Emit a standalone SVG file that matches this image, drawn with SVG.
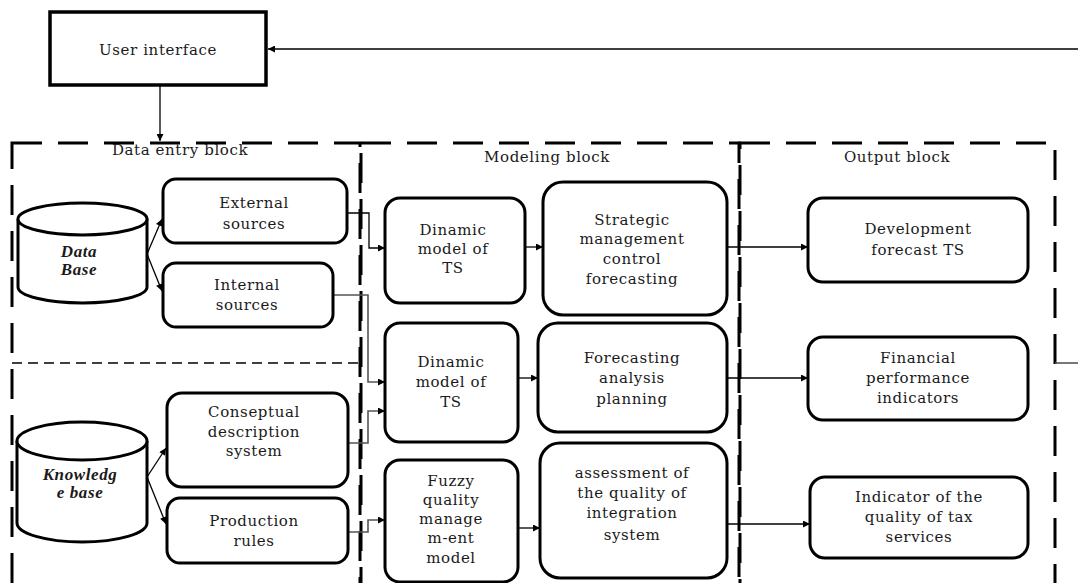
<svg xmlns="http://www.w3.org/2000/svg" width="1078" height="583" viewBox="0 0 1078 583">
<defs>
<marker id="ah" viewBox="0 0 10 10" refX="10" refY="5" markerWidth="10" markerHeight="7" markerUnits="userSpaceOnUse" orient="auto"><path d="M0,0 L10,5 L0,10 z" fill="#000"/></marker>
<style>
.t{font-family:"DejaVu Serif","Liberation Serif",serif;font-size:15px;fill:#1a1a1a;text-anchor:middle;letter-spacing:0.6px}
.ti{font-family:"Liberation Serif",serif;font-size:17px;font-weight:bold;font-style:italic;fill:#1a1a1a;text-anchor:middle;letter-spacing:0.6px}
.box{fill:#fff;stroke:#000;stroke-width:3}
.blk{fill:none;stroke:#000;stroke-width:3;stroke-dasharray:30 16}
.c{fill:none;stroke:#000;stroke-width:1.3}
.cg{fill:none;stroke:#555;stroke-width:1.6}
</style>
</defs>
<rect width="1078" height="583" fill="#fff"/>
<g id="blocks">
<rect class="blk" x="12" y="143" width="348" height="470"/>
<rect class="blk" x="361" y="143" width="378" height="470"/>
<rect class="blk" x="740" y="143" width="315" height="470"/>
<line x1="12" y1="363" x2="360" y2="363" stroke="#000" stroke-width="1.5" stroke-dasharray="10 6"/>
<text class="t" x="180" y="155">Data entry block</text>
<text class="t" x="547" y="162">Modeling block</text>
<text class="t" x="897" y="162">Output block</text>
</g>
<g id="connectors">
<line class="c" x1="1078" y1="49" x2="268" y2="49" marker-end="url(#ah)"/>
<line class="c" x1="160" y1="86" x2="160" y2="141" stroke-width="2" marker-end="url(#ah)"/>
<line class="cg" x1="1055" y1="363" x2="1078" y2="363"/>
<line class="c" x1="147" y1="254" x2="162" y2="219" marker-end="url(#ah)"/>
<line class="c" x1="147" y1="254" x2="162" y2="291" marker-end="url(#ah)"/>
<line class="c" x1="147" y1="477" x2="166" y2="448" marker-end="url(#ah)"/>
<line class="c" x1="147" y1="477" x2="166" y2="524" marker-end="url(#ah)"/>
<path class="c" d="M347,213 H369 V248 H385" marker-end="url(#ah)"/>
<path class="cg" d="M333,295 H368 V382 H385" marker-end="url(#ah)"/>
<path class="cg" d="M348,443 H368 V411 H385" marker-end="url(#ah)"/>
<path class="cg" d="M348,532 H368 V520 H385" marker-end="url(#ah)"/>
<line class="c" x1="525" y1="247" x2="543" y2="247" marker-end="url(#ah)"/>
<line class="c" x1="513" y1="378" x2="538" y2="378" marker-end="url(#ah)"/>
<line class="c" x1="518" y1="528" x2="540" y2="528" marker-end="url(#ah)"/>
<line class="c" x1="727" y1="247" x2="808" y2="247" marker-end="url(#ah)"/>
<line class="c" x1="727" y1="378" x2="808" y2="378" marker-end="url(#ah)"/>
<line class="c" x1="727" y1="524" x2="810" y2="524" marker-end="url(#ah)"/>
</g>
<g id="user-interface">
<rect x="50" y="12" width="216" height="73" fill="#fff" stroke="#000" stroke-width="3.5"/>
<text class="t" x="158" y="55">User interface</text>
</g>
<g id="data-base">
<path d="M18,219 V287 A64.5,16 0 0 0 147,287 V219" fill="#fff" stroke="#000" stroke-width="3"/>
<ellipse cx="82.5" cy="219" rx="64.5" ry="16" fill="#fff" stroke="#000" stroke-width="3"/>
<text class="ti" x="79" y="257">Data</text>
<text class="ti" x="79" y="275">Base</text>
</g>
<g id="knowledge-base">
<path d="M17,441 V523 A65,19 0 0 0 147,523 V441" fill="#fff" stroke="#000" stroke-width="3"/>
<ellipse cx="82" cy="441" rx="65" ry="19" fill="#fff" stroke="#000" stroke-width="3"/>
<text class="ti" x="80" y="480">Knowledg</text>
<text class="ti" x="80" y="498">e base</text>
</g>
<g id="external-sources">
<rect class="box" x="163" y="179" width="184" height="64" rx="13"/>
<text class="t" x="254" y="208">External</text>
<text class="t" x="254" y="229">sources</text>
</g>
<g id="internal-sources">
<rect class="box" x="163" y="263" width="170" height="64" rx="13"/>
<text class="t" x="247" y="290">Internal</text>
<text class="t" x="247" y="310">sources</text>
</g>
<g id="conseptual">
<rect class="box" x="167" y="393" width="181" height="94" rx="15"/>
<text class="t" x="254" y="417">Conseptual</text>
<text class="t" x="254" y="437">description</text>
<text class="t" x="254" y="456">system</text>
</g>
<g id="production-rules">
<rect class="box" x="167" y="498" width="181" height="65" rx="13"/>
<text class="t" x="254" y="526">Production</text>
<text class="t" x="254" y="546">rules</text>
</g>
<g id="dinamic-1">
<rect class="box" x="385" y="198" width="140" height="105" rx="15"/>
<text class="t" x="453" y="235">Dinamic</text>
<text class="t" x="453" y="254">model of</text>
<text class="t" x="453" y="273">TS</text>
</g>
<g id="strategic">
<rect class="box" x="543" y="182" width="184" height="133" rx="20"/>
<text class="t" x="632" y="225">Strategic</text>
<text class="t" x="632" y="244">management</text>
<text class="t" x="632" y="264">control</text>
<text class="t" x="632" y="284">forecasting</text>
</g>
<g id="dinamic-2">
<rect class="box" x="385" y="323" width="133" height="119" rx="15"/>
<text class="t" x="451" y="367">Dinamic</text>
<text class="t" x="451" y="387">model of</text>
<text class="t" x="451" y="407">TS</text>
</g>
<g id="forecasting">
<rect class="box" x="538" y="323" width="189" height="109" rx="20"/>
<text class="t" x="632" y="363">Forecasting</text>
<text class="t" x="632" y="383">analysis</text>
<text class="t" x="632" y="404">planning</text>
</g>
<g id="fuzzy">
<rect class="box" x="385" y="460" width="133" height="122" rx="15"/>
<text class="t" x="451" y="486">Fuzzy</text>
<text class="t" x="451" y="505">quality</text>
<text class="t" x="451" y="524">manage</text>
<text class="t" x="451" y="543">m-ent</text>
<text class="t" x="451" y="563">model</text>
</g>
<g id="assessment">
<rect class="box" x="540" y="443" width="187" height="135" rx="20"/>
<text class="t" x="632" y="478">assessment of</text>
<text class="t" x="632" y="498">the quality of</text>
<text class="t" x="632" y="518">integration</text>
<text class="t" x="632" y="540">system</text>
</g>
<g id="development">
<rect class="box" x="808" y="198" width="220" height="84" rx="15"/>
<text class="t" x="918" y="234">Development</text>
<text class="t" x="918" y="255">forecast TS</text>
</g>
<g id="financial">
<rect class="box" x="808" y="337" width="220" height="83" rx="15"/>
<text class="t" x="918" y="363">Financial</text>
<text class="t" x="918" y="383">performance</text>
<text class="t" x="918" y="403">indicators</text>
</g>
<g id="indicator">
<rect class="box" x="810" y="477" width="218" height="81" rx="15"/>
<text class="t" x="919" y="502">Indicator of the</text>
<text class="t" x="919" y="522">quality of tax</text>
<text class="t" x="919" y="542">services</text>
</g>
</svg>
